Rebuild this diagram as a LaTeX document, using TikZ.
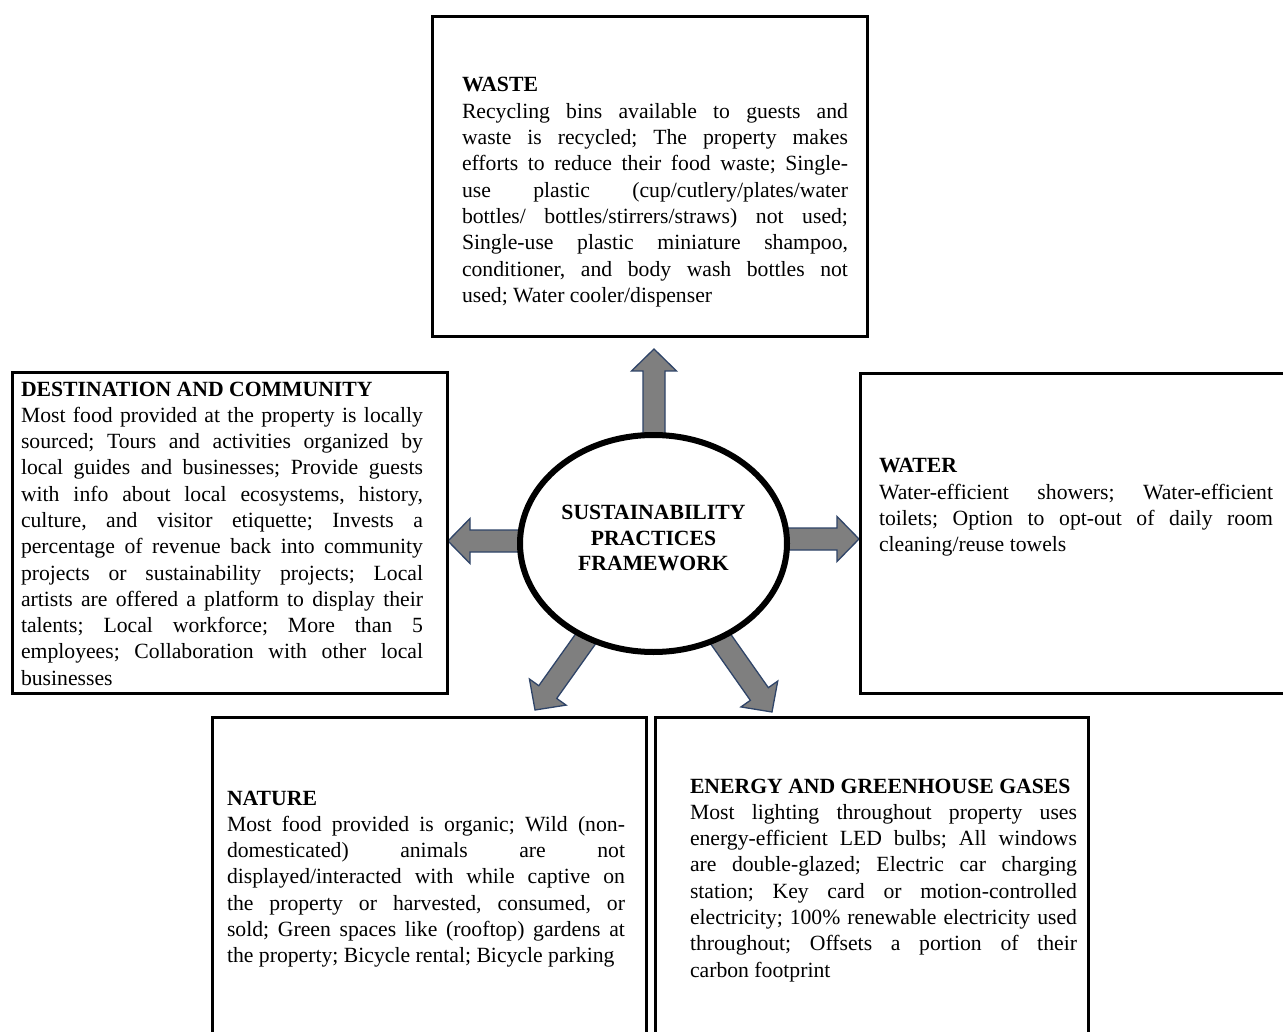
\documentclass[tikz,border=0pt]{standalone}
\usepackage{fontspec}
\setmainfont{Liberation Serif}
\usetikzlibrary{shapes.geometric}
\pgfdeclarelayer{background}
\pgfsetlayers{background,main}
\definecolor{arrowgray}{HTML}{7F7F7F}
\definecolor{arrowblue}{HTML}{2F4468}
\tolerance=10000 \hbadness=10000 \hfuzz=6pt
\hyphenpenalty=10000 \exhyphenpenalty=10000
\frenchspacing
\newcommand\bodyfont{\fontsize{21.7}{26.3}\selectfont}
\newcommand\fatarrow[2]{%
  \pgfmathanglebetweenpoints{\pgfpointanchor{#1}{center}}{\pgfpointanchor{#2}{center}}%
  \let\faang\pgfmathresult
  \pgfpointdiff{\pgfpointanchor{#1}{center}}{\pgfpointanchor{#2}{center}}%
  \pgfgetlastxy{\fadx}{\fady}%
  \pgfmathsetmacro\falen{veclen(\fadx,\fady)}%
  \begin{scope}[shift={(#1.center)}, rotate=\faang]
    \draw[blockarrow] (0,-11) -- ({\falen-22},-11) -- ({\falen-22},-22.5) -- (\falen,0)
      -- ({\falen-22},22.5) -- ({\falen-22},11) -- (0,11) -- cycle;
  \end{scope}}
\begin{document}
\begin{tikzpicture}[x=1pt,y=1pt,
  box/.style={draw, line width=3pt, inner sep=0pt, outer sep=0pt, anchor=north west},
  body/.style={inner sep=0pt, outer sep=0pt, anchor=base west, align=justify, font=\bodyfont},
  ctext/.style={inner sep=0pt, outer sep=0pt, anchor=base, align=center, text width=260pt,
    font=\fontsize{21.7}{25.5}\selectfont\bfseries},
  blockarrow/.style={fill=arrowgray, draw=arrowblue, line width=1.3pt, line join=miter}]
\useasboundingbox (0,0) rectangle (1283,-1032);
\clip (0,0) rectangle (1283,-1032);
\begin{pgfonlayer}{background}
\fill[white] (0,0) rectangle (1283,-1032);
\end{pgfonlayer}

% boxes
\node[box, minimum width=435, minimum height=320] (waste) at (432,-17) {};
\node[box, minimum width=435, minimum height=320] (dest) at (12,-373) {};
\node[box, minimum width=440, minimum height=319] (water) at (860,-374) {};
\node[box, minimum width=434, minimum height=340] (nature) at (212,-717) {};
\node[box, minimum width=433, minimum height=340] (energy) at (655,-717) {};

% central ellipse
\node[ellipse, draw, fill=white, line width=6pt, minimum width=267, minimum height=217, inner sep=0pt] (c) at (653.5,-543.5) {};
\node[ctext] (ctitle) at (653.5,-519.5) {SUSTAINABILITY\\PRACTICES\\FRAMEWORK};

% arrow starts and tips
\coordinate (sL) at (653.5,-541);
\coordinate (sR) at (653.5,-539);
\coordinate (sU) at (654,-543.5);
\coordinate (tU) at (654,-349);
\coordinate (tL) at (448,-541);
\coordinate (tR) at (859,-539);
\coordinate (tDL) at (535,-710);
\coordinate (tDR) at (772,-712);

\begin{pgfonlayer}{background}
\fatarrow{sU}{tU}
\fatarrow{sL}{tL}
\fatarrow{sR}{tR}
\fatarrow{c}{tDL}
\fatarrow{c}{tDR}
\end{pgfonlayer}

% texts
\node[body, text width=386pt] (wastetext) at (462,-92) {\textbf{WASTE}\\
Recycling bins available to guests and\linebreak
waste is recycled; The property makes\linebreak
efforts to reduce their food waste; Single-\linebreak
use plastic (cup/cutlery/plates/water\linebreak
bottles/ bottles/stirrers/straws) not used;\linebreak
Single-use plastic miniature shampoo,\linebreak
conditioner, and body wash bottles not\linebreak
used; Water cooler/dispenser};

\node[body, text width=402pt] (desttext) at (21,-396) {\textbf{DESTINATION AND COMMUNITY}\\
Most food provided at the property is locally\linebreak
sourced; Tours and activities organized by\linebreak
local guides and businesses; Provide guests\linebreak
with info about local ecosystems, history,\linebreak
culture, and visitor etiquette; Invests a\linebreak
percentage of revenue back into community\linebreak
projects or sustainability projects; Local\linebreak
artists are offered a platform to display their\linebreak
talents; Local workforce; More than 5\linebreak
employees; Collaboration with other local\linebreak
businesses};

\node[body, text width=394pt] (watertext) at (879,-472.7) {\textbf{WATER}\\
Water-efficient showers; Water-efficient\linebreak
toilets; Option to opt-out of daily room\linebreak
cleaning/reuse towels};

\node[body, text width=398pt] (naturetext) at (227,-805) {\textbf{NATURE}\\
Most food provided is organic; Wild (non-\linebreak
domesticated) animals are not\linebreak
displayed/interacted with while captive on\linebreak
the property or harvested, consumed, or\linebreak
sold; Green spaces like (rooftop) gardens at\linebreak
the property; Bicycle rental; Bicycle parking};

\node[body, text width=387pt] (energytext) at (690,-793) {\textbf{ENERGY AND GREENHOUSE GASES}\\
Most lighting throughout property uses\linebreak
energy-efficient LED bulbs; All windows\linebreak
are double-glazed; Electric car charging\linebreak
station; Key card or motion-controlled\linebreak
electricity; 100\% renewable electricity used\linebreak
throughout; Offsets a portion of their\linebreak
carbon footprint};
\end{tikzpicture}
\end{document}
